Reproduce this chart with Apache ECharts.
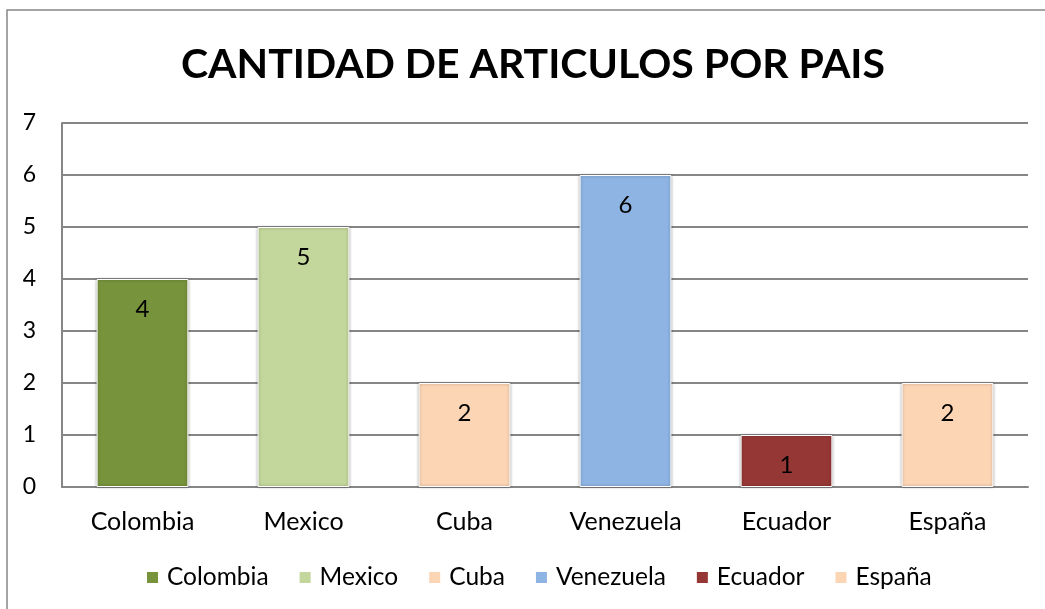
<!DOCTYPE html>
<html>
<head>
<meta charset="utf-8">
<script src="https://cdn.jsdelivr.net/npm/echarts@6/dist/echarts.min.js"></script>
<style>
  html, body { margin: 0; padding: 0; background: #fff; }
  #chart { width: 1045px; height: 609px; }
</style>
</head>
<body>
<div id="chart"></div>
<script>
// datos del grafico
const titulo = 'CANTIDAD DE ARTICULOS POR PAIS'
const paises = ['Colombia', 'Mexico', 'Cuba', 'Venezuela', 'Ecuador', 'España']
const articulos = [4, 5, 2, 6, 1, 2]
const colores = ['#77933C', '#C3D69B', '#FCD5B5', '#8EB4E3', '#953735', '#FCD5B5']
const ejeY = [0, 1, 2, 3, 4, 5, 6, 7]

const fuente = 'Lato'
const gris = '#868686'

const myChart = echarts.init(document.getElementById('chart'))

// una serie por pais para que la leyenda muestre cada categoria
const series = paises.map((pais, i) => ({
    name: pais,
    type: 'bar',
    stack: 'total',
    barWidth: '57%',
    data: articulos.map((v, j) => (j === i ? v : '-')),
    itemStyle: {
        color: colores[i],
        borderColor: '#fff',
        borderWidth: 1,
        shadowBlur: 3,
        shadowColor: 'rgba(0,0,0,0.35)',
        shadowOffsetX: 0,
        shadowOffsetY: 0
    },
    label: {
        show: true,
        position: 'insideTop',
        distance: 18,
        color: '#000',
        fontFamily: fuente,
        fontSize: 24
    }
}))

const option = {
    animation: false,
    graphic: [{
        type: 'rect',
        shape: { x: 7, y: 10, width: 1060, height: 640 },
        style: { fill: 'none', stroke: gris, lineWidth: 1.5 },
        silent: true
    }],
    title: {
        text: titulo,
        left: 176,
        top: 39,
        textStyle: {
            fontFamily: fuente,
            fontWeight: 'bold',
            fontSize: 41,
            color: '#000'
        }
    },
    legend: {
        bottom: 19,
        left: 145,
        padding: 0,
        itemWidth: 13,
        itemHeight: 13,
        itemGap: 29,
        icon: 'rect',
        textStyle: { fontFamily: fuente, fontSize: 24.5, color: '#000', padding: [0, 0, 0, 3] },
        data: paises
    },
    grid: { left: 62, right: 17, top: 123, bottom: 122, containLabel: false },
    xAxis: {
        type: 'category',
        data: paises,
        axisLine: { lineStyle: { color: gris, width: 2 } },
        axisTick: { show: false },
        axisLabel: { fontFamily: fuente, fontSize: 25, color: '#000', margin: 22 }
    },
    yAxis: {
        type: 'value',
        min: ejeY[0],
        max: ejeY[ejeY.length - 1],
        interval: 1,
        axisLine: { show: true, lineStyle: { color: gris, width: 2 } },
        axisTick: { show: false },
        splitLine: { lineStyle: { color: gris, width: 2 } },
        axisLabel: { fontFamily: fuente, fontSize: 23, color: '#000', margin: 26 }
    },
    series: series
}

myChart.setOption(option)
</script>
</body>
</html>
